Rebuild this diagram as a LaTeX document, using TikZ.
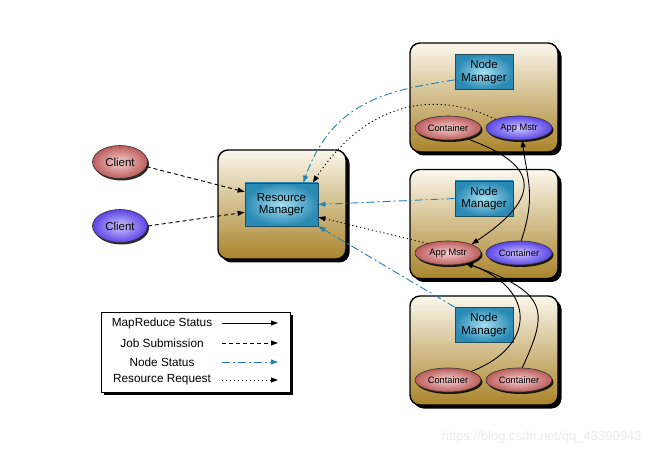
\documentclass[tikz,border=0pt]{standalone}
\usepackage{fontspec}
\setmainfont{Liberation Sans}
\usetikzlibrary{calc,shapes.geometric,shadows,arrows.meta}
\definecolor{boxtop}{HTML}{FBF7EC}
\definecolor{boxbot}{HTML}{A9842B}
\definecolor{mgrin}{HTML}{A5E0F2}
\definecolor{mgrout}{HTML}{2A8AB4}
\definecolor{mgrline}{HTML}{1E4E60}
\definecolor{pinkin}{HTML}{F6D0D0}
\definecolor{pinkout}{HTML}{BC5C5C}
\definecolor{purpin}{HTML}{CEC6FF}
\definecolor{purpout}{HTML}{5A44E6}
\definecolor{nsteal}{HTML}{2581AD}

\begin{document}
\begin{tikzpicture}[x=1pt,y=-1pt,
    hostbox/.style={rectangle,draw=black,line width=1.4pt,rounded corners=10pt,
      minimum width=148pt,minimum height=109pt,top color=boxtop,bottom color=boxbot,
      drop shadow={shadow xshift=3.5pt,shadow yshift=-3.5pt,fill=black,opacity=1}},
    mgrbox/.style={rectangle,draw=mgrline,line width=0.8pt,inner color=mgrin,outer color=mgrout,
      minimum width=58pt,minimum height=35pt,align=center,inner sep=1pt,
      font=\fontsize{11.5}{12.5}\selectfont},
    task/.style={ellipse,draw=black!80,line width=0.6pt,minimum width=66pt,minimum height=24pt,
      inner sep=0pt,font=\fontsize{9.3}{10}\selectfont,
      drop shadow={shadow xshift=1.5pt,shadow yshift=-2pt,fill=black,opacity=0.85}},
    pinktask/.style={task,inner color=pinkin,outer color=pinkout},
    purptask/.style={task,inner color=purpin,outer color=purpout},
    tip/.style={-{Triangle[length=7pt,width=5pt]}},
    mrstat/.style={draw=black,line width=0.9pt,tip},
    jobsub/.style={draw=black,line width=0.9pt,dash pattern=on 4pt off 3pt,tip},
    nodestat/.style={draw=nsteal,line width=0.9pt,dash pattern=on 8pt off 3pt on 2pt off 3pt,tip},
    resreq/.style={draw=black,line width=0.9pt,dash pattern=on 1.2pt off 2.8pt,tip}]
  \useasboundingbox[fill=white] (0,0) rectangle (653,454);

  \foreach \i/\y in {1/97.5,2/224,3/350.5}{
    \node[hostbox] (host\i) at (484,\y) {};
    \node[mgrbox] (nm\i) at ($ (host\i)+(0,-25.5) $) {Node\\Manager};
  }
  \node[pinktask] (ct1) at ($ (host1)+(-36,30.5) $) {Container};
  \node[purptask] (am1) at ($ (host1)+(35,30.5) $) {App Mstr};
  \node[pinktask] (am2) at ($ (host2)+(-36,29) $) {App Mstr};
  \node[purptask] (ct2) at ($ (host2)+(35,29) $) {Container};
  \node[pinktask] (ct3) at ($ (host3)+(-36,29.5) $) {Container};
  \node[pinktask] (ct4) at ($ (host3)+(35,29.5) $) {Container};

  \node[hostbox,minimum width=128pt] (rmhost) at (282,204.5) {};
  \node[mgrbox,minimum width=73pt,minimum height=43pt] (rm) at (281.5,204.5) {Resource\\Manager};

  \node[pinktask,minimum width=55pt,minimum height=33pt,font=\fontsize{11.5}{12.5}\selectfont] (c1) at (120,162) {Client};
  \node[purptask,minimum width=55pt,minimum height=33pt,font=\fontsize{11.5}{12.5}\selectfont] (c2) at (120,226) {Client};

  \draw[jobsub] (c1.-10) -- (rm.161);
  \draw[jobsub] (c2.east) -- (rm.192);
  \draw[nodestat] (nm1.195) .. controls +(-60,10) and +(30,-85) .. (rm.45);
  \draw[resreq] (am1.north west) .. controls +(-50,-25) and +(60,-90) .. (rm.35);
  \draw[nodestat] (nm2.west) -- (rm.east);
  \draw[resreq] (am2.155) -- (rm.-19);
  \draw[nodestat] (nm3.north west) -- (rm.south east);
  \draw[mrstat] (ct1.-30) .. controls +(70,25) and +(75,-50) .. (am2.north east);
  \draw[mrstat] (ct2.80) .. controls +(15,-45) and +(5,40) .. (am1.-75);
  \draw[mrstat] (ct3.north east) .. controls +(65,-25) and +(70,25) .. (am2.-30);
  \draw[mrstat] (ct4.75) .. controls +(25,-55) and +(85,30) .. (am2.-30);

  \node[rectangle,draw=black,line width=0.9pt,fill=white,minimum width=189pt,minimum height=80pt,
    drop shadow={shadow xshift=2.5pt,shadow yshift=-2.5pt,fill=black,opacity=1}] (legend) at (195.5,352) {};
  \foreach \i/\y/\txt/\sty in {1/323/MapReduce Status/mrstat,2/343/Job Submission/jobsub,
      3/362/Node Status/nodestat,4/380/Resource Request/resreq}{
    \node[font=\fontsize{11.8}{12.8}\selectfont] (lbl\i) at (162,\y) {\txt};
    \coordinate (la\i) at (222,\y);
    \coordinate (lb\i) at (278,\y);
    \draw[\sty] (la\i) -- (lb\i);
  }

  \node[anchor=east,text=black!7,font=\fontsize{13}{14}\selectfont] (mark) at (645,437) {https://blog.csdn.net/qq\_43390943};
\end{tikzpicture}
\end{document}
